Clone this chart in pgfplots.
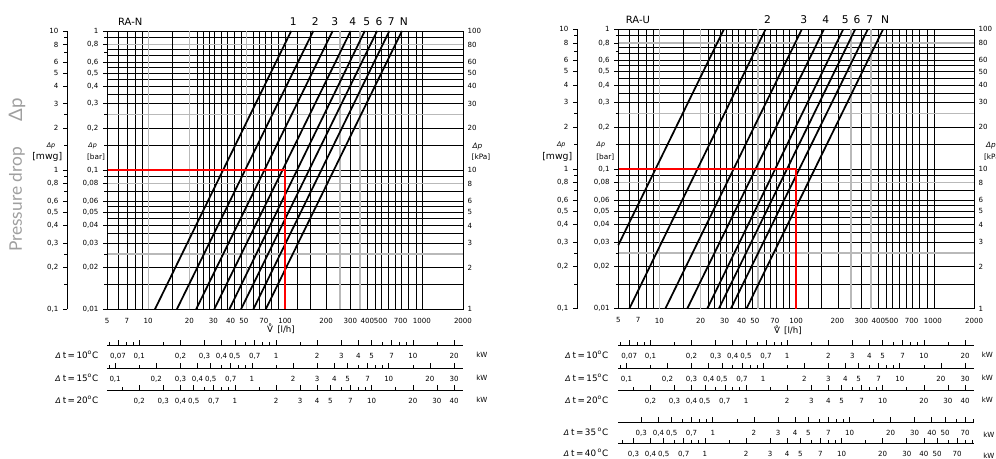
\documentclass[border=0pt]{standalone}
\usepackage{fontspec}
\setmainfont{DejaVu Sans}
\newfontfamily\bigfont{Lato}
\usepackage{pgfplots}
\pgfplotsset{compat=1.18}
\newcommand\tk{\fontsize{5.3}{6}\selectfont}
\newcommand\dt[1]{{\fontsize{5.8}{6}\selectfont\itshape Δ}\;{\fontsize{6.6}{7}\selectfont t\,=\,#1\textsuperscript{o}C}}

\begin{document}
\begin{tikzpicture}
\useasboundingbox (0,0) rectangle (747pt,344.25pt);

\node[rotate=90, text=gray!75, font=\bigfont\fontsize{13}{14}\selectfont] at (12.75pt,194.6pt) {Pressure drop};
\node[rotate=90, text=gray!75, font=\bigfont\fontsize{14}{15}\selectfont] at (12.75pt,261.75pt) {Δp};

% ================= LEFT : RA-N =================
\begin{axis}[at={(80.25pt,112.3pt)}, width=267pt, height=208.7pt,
    scale only axis, anchor=south west, xmode=log, ymode=log,
    xmin=5, xmax=2000, ymin=0.01, ymax=1, clip=false, font=\tk,
    axis line style={black, line width=0.6pt},
    major tick length=0pt, minor tick length=0pt,
    xtick={5,7,10,20,30,40,50,70,100,200,300,400,500,700,1000,2000},
    xticklabels={5,7,10,20,30,40,50,70,100,200,300,400,500,700,1000,2000},
    xticklabel style={yshift=-3.3pt},
    ytick={0.015,0.02,0.03,0.035,0.04,0.045,0.05,0.055,0.06,0.07,0.09,0.1,0.15,0.2,0.3,0.35,0.4,0.45,0.5,0.55,0.6,0.67,0.74,0.9},
    yticklabels={}, ymajorgrids=true, major grid style={black, line width=0.45pt},
    minor xtick={6,7,8,9,22.7,25.3,27.9,30.6,34.4,38,42.7,47.7,58.8,64.4,72,80,89,100,123,154,202,299,400,455,509,570,637,713,793,908,1016},
    xminorgrids=true,
    minor grid style={black, line width=0.45pt},
    extra x ticks={10,20,52.5,252,353}, extra x tick labels={},
    extra x tick style={grid=major, major grid style={gray!55, line width=1pt}},
    extra y ticks={0.025,0.08,0.25,0.8}, extra y tick labels={},
    extra y tick style={grid=major, major grid style={gray!55, line width=1pt}}]
  \addplot[black, line width=0.9pt] coordinates {(15,0.01) (15,1)};
  \addplot[black, line width=1.3pt] coordinates {(11.2,0.01) (111,1)};
  \addplot[black, line width=1.3pt] coordinates {(16.2,0.01) (161,1)};
  \addplot[black, line width=1.3pt] coordinates {(22.4,0.01) (223,1)};
  \addplot[black, line width=1.3pt] coordinates {(30.4,0.01) (302,1)};
  \addplot[black, line width=1.3pt] coordinates {(39.2,0.01) (383,1)};
  \addplot[black, line width=1.3pt] coordinates {(47.7,0.01) (471,1)};
  \addplot[black, line width=1.3pt] coordinates {(58.7,0.01) (579,1)};
  \addplot[black, line width=1.3pt] coordinates {(72.3,0.01) (716,1)};
  \addplot[red, line width=1.7pt] coordinates {(5,0.1) (100,0.1) (100,0.01)};
  \node[anchor=south, font=\fontsize{8}{9}\selectfont, yshift=0.3pt, xshift=1.5pt] at (axis cs:111,1) {1};
  \node[anchor=south, font=\fontsize{8}{9}\selectfont, yshift=0.3pt, xshift=1.5pt] at (axis cs:161,1) {2};
  \node[anchor=south, font=\fontsize{8}{9}\selectfont, yshift=0.3pt, xshift=1.5pt] at (axis cs:223,1) {3};
  \node[anchor=south, font=\fontsize{8}{9}\selectfont, yshift=0.3pt, xshift=1.5pt] at (axis cs:302,1) {4};
  \node[anchor=south, font=\fontsize{8}{9}\selectfont, yshift=0.3pt, xshift=1.5pt] at (axis cs:383,1) {5};
  \node[anchor=south, font=\fontsize{8}{9}\selectfont, yshift=0.3pt, xshift=1.5pt] at (axis cs:471,1) {6};
  \node[anchor=south, font=\fontsize{8}{9}\selectfont, yshift=0.3pt, xshift=1.5pt] at (axis cs:579,1) {7};
  \node[anchor=south, font=\fontsize{8}{9}\selectfont, yshift=0.3pt, xshift=1.5pt] at (axis cs:716,1) {N};
  \node[anchor=south, font=\fontsize{7.5}{8}\selectfont, yshift=0.3pt] at (axis cs:7.4,1) {RA-N};
  \node[anchor=west, xshift=-17.5pt, font=\fontsize{4.8}{5}\selectfont\itshape] at (axis cs:5,0.1486) {Δp};
  \node[anchor=west, xshift=-18.5pt, font=\fontsize{5.5}{6}\selectfont] at (axis cs:5,0.124) {[bar]};
  \node[anchor=east, xshift=-35.25pt, font=\fontsize{4.8}{5}\selectfont\itshape] at (axis cs:5,0.1486) {Δp};
  \node[anchor=east, xshift=-30pt, font=\fontsize{7}{8}\selectfont] at (axis cs:5,0.124) {[mwg]};
  \node[anchor=west, xshift=3.75pt, font=\fontsize{5.5}{6}\selectfont\itshape] at (axis cs:2000,0.1486) {Δp};
  \node[anchor=west, xshift=3pt, font=\fontsize{5.5}{6}\selectfont] at (axis cs:2000,0.124) {[kPa]};
  \node[font=\fontsize{6.5}{7}\selectfont, yshift=-14.8pt] at (axis cs:93.5,0.01) {V̊ \,[l/h]};
\end{axis}
% bar scale
\begin{axis}[at={(80.25pt,112.3pt)}, width=267pt, height=208.7pt,
  scale only axis, anchor=south west, ymode=log, font=\tk,
  xmin=0, xmax=1, hide x axis, axis y line*=left, axis line style={-, black, line width=0.5pt},
  tick align=outside, major tick length=3pt, minor tick length=2pt, tick style={black, line width=0.5pt},
  ymin=0.01, ymax=1,
  ytick={0.01,0.02,0.03,0.04,0.05,0.06,0.08,0.1,0.2,0.3,0.4,0.5,0.6,0.8,1},
  yticklabels={{0,01},{0,02},{0,03},{0,04},{0,05},{0,06},{0,08},{0,1},{0,2},{0,3},{0,4},{0,5},{0,6},{0,8},1},
  minor ytick={0.015,0.025,0.07,0.09,0.15,0.25,0.7,0.9}]
\end{axis}
% mwg scale
\begin{axis}[at={(50.25pt,112.3pt)}, width=1pt, height=208.7pt,
  scale only axis, anchor=south west, ymode=log, font=\tk,
  xmin=0, xmax=1, hide x axis, axis y line*=left, axis line style={-, black, line width=0.5pt},
  tick align=outside, major tick length=3pt, minor tick length=2pt, tick style={black, line width=0.5pt},
  ymin=0.1, ymax=10,
  ytick={0.1,0.2,0.3,0.4,0.5,0.6,0.8,1,2,3,4,5,6,8,10},
  yticklabels={{0,1},{0,2},{0,3},{0,4},{0,5},{0,6},{0,8},1,2,3,4,5,6,8,10},
  minor ytick={0.15,0.25,0.7,0.9,1.5,2.5,7,9}]
\end{axis}
% kPa scale
\begin{axis}[at={(80.25pt,112.3pt)}, width=267pt, height=208.7pt,
  scale only axis, anchor=south west, ymode=log, font=\tk,
  xmin=0, xmax=1, hide x axis, axis y line*=right, axis line style={-, black, line width=0.5pt},
  major tick length=0pt, minor tick length=0pt,
  ymin=1, ymax=100,
  ytick={1,2,3,4,5,6,8,10,20,30,40,50,60,80,100},
  yticklabels={1,2,3,4,5,6,8,10,20,30,40,50,60,80,100}]
\end{axis}
% kW scales left
\begin{axis}[at={(80.25pt,85.5pt)}, width=267pt, height=4pt,
  scale only axis, anchor=south west, xmode=log, font=\tk, clip=false,
  hide y axis, ymin=0, ymax=1, axis x line*=bottom, axis line style={-, black, line width=0.5pt},
  tick align=inside, major tick length=3.5pt, minor tick length=2.5pt,
  tick style={black, line width=0.5pt}, xticklabel style={yshift=-2.8pt},
  xmin=0.05815, xmax=23.26,
  xtick={0.07,0.1,0.2,0.3,0.4,0.5,0.7,1,2,3,4,5,7,10,20},
  xticklabels={{0,07},{0,1},{0,2},{0,3},{0,4},{0,5},{0,7},1,2,3,4,5,7,10,20},
  minor xtick={0.06,0.08,0.09,0.15,0.6,0.8,0.9,1.5,6,8,9,15}]
  \node[anchor=east, xshift=-3pt, yshift=-7.5pt] at (rel axis cs:0,0) {\dt{10}};
  \node[anchor=west, xshift=6.5pt, yshift=-7.5pt] at (rel axis cs:1,0) {kW};
\end{axis}
\begin{axis}[at={(80.25pt,68.25pt)}, width=267pt, height=4pt,
  scale only axis, anchor=south west, xmode=log, font=\tk, clip=false,
  hide y axis, ymin=0, ymax=1, axis x line*=bottom, axis line style={-, black, line width=0.5pt},
  tick align=inside, major tick length=3.5pt, minor tick length=2.5pt,
  tick style={black, line width=0.5pt}, xticklabel style={yshift=-2.8pt},
  xmin=0.087225, xmax=34.89,
  xtick={0.1,0.2,0.3,0.4,0.5,0.7,1,2,3,4,5,7,10,20,30},
  xticklabels={{0,1},{0,2},{0,3},{0,4},{0,5},{0,7},1,2,3,4,5,7,10,20,30},
  minor xtick={0.09,0.15,0.6,0.8,0.9,1.5,6,8,9,15}]
  \node[anchor=east, xshift=-3pt, yshift=-7.5pt] at (rel axis cs:0,0) {\dt{15}};
  \node[anchor=west, xshift=6.5pt, yshift=-7.5pt] at (rel axis cs:1,0) {kW};
\end{axis}
\begin{axis}[at={(80.25pt,51.75pt)}, width=267pt, height=4pt,
  scale only axis, anchor=south west, xmode=log, font=\tk, clip=false,
  hide y axis, ymin=0, ymax=1, axis x line*=bottom, axis line style={-, black, line width=0.5pt},
  tick align=inside, major tick length=3.5pt, minor tick length=2.5pt,
  tick style={black, line width=0.5pt}, xticklabel style={yshift=-2.8pt},
  xmin=0.1163, xmax=46.52,
  xtick={0.2,0.3,0.4,0.5,0.7,1,2,3,4,5,7,10,20,30,40},
  xticklabels={{0,2},{0,3},{0,4},{0,5},{0,7},1,2,3,4,5,7,10,20,30,40},
  minor xtick={0.15,0.6,0.8,0.9,1.5,6,8,9,15}]
  \node[anchor=east, xshift=-3pt, yshift=-7.5pt] at (rel axis cs:0,0) {\dt{20}};
  \node[anchor=west, xshift=6.5pt, yshift=-7.5pt] at (rel axis cs:1,0) {kW};
\end{axis}

% ================= RIGHT : RA-U =================
\begin{axis}[at={(463.7pt,112.7pt)}, width=266.8pt, height=209.5pt,
    scale only axis, anchor=south west, xmode=log, ymode=log,
    xmin=5, xmax=2000, ymin=0.01, ymax=1, clip=false, font=\tk,
    axis line style={black, line width=0.6pt},
    major tick length=0pt, minor tick length=0pt,
    xtick={5,7,10,20,30,40,50,70,100,200,300,400,500,700,1000,2000},
    xticklabels={5,7,10,20,30,40,50,70,100,200,300,400,500,700,1000,2000},
    xticklabel style={yshift=-3.3pt},
    ytick={0.015,0.02,0.03,0.035,0.04,0.045,0.05,0.055,0.06,0.07,0.09,0.1,0.15,0.2,0.3,0.35,0.4,0.45,0.5,0.55,0.6,0.67,0.74,0.9},
    yticklabels={}, ymajorgrids=true, major grid style={black, line width=0.45pt},
    minor xtick={6,7,8,9,22.7,25.3,27.9,30.6,34.4,38,42.7,47.7,58.8,64.4,72,80,89,100,123,154,202,299,400,455,509,570,637,713,793,908,1016},
    xminorgrids=true,
    minor grid style={black, line width=0.45pt},
    extra x ticks={10,20,52.5,252,353}, extra x tick labels={},
    extra x tick style={grid=major, major grid style={gray!55, line width=1pt}},
    extra y ticks={0.025,0.08,0.25,0.8}, extra y tick labels={},
    extra y tick style={grid=major, major grid style={gray!55, line width=1pt}}]
  \addplot[black, line width=0.9pt] coordinates {(15,0.01) (15,1)};
  \addplot[black, line width=1.3pt] coordinates {(5,0.0285) (29.6,1)};
  \addplot[black, line width=1.3pt] coordinates {(6.02,0.01) (59.7,1)};
  \addplot[black, line width=1.3pt] coordinates {(11.04,0.01) (110,1)};
  \addplot[black, line width=1.3pt] coordinates {(15.97,0.01) (159.5,1)};
  \addplot[black, line width=1.3pt] coordinates {(22.37,0.01) (220.7,1)};
  \addplot[black, line width=1.3pt] coordinates {(27.2,0.01) (270,1)};
  \addplot[black, line width=1.3pt] coordinates {(33.3,0.01) (334,1)};
  \addplot[black, line width=1.3pt] coordinates {(43.3,0.01) (432,1)};
  \addplot[red, line width=1.7pt] coordinates {(5,0.1) (100,0.1) (100,0.01)};
  \node[anchor=south, font=\fontsize{8}{9}\selectfont, yshift=0.8pt, xshift=1.5pt] at (axis cs:59.7,1) {2};
  \node[anchor=south, font=\fontsize{8}{9}\selectfont, yshift=0.8pt, xshift=1.5pt] at (axis cs:110,1) {3};
  \node[anchor=south, font=\fontsize{8}{9}\selectfont, yshift=0.8pt, xshift=1.5pt] at (axis cs:159.5,1) {4};
  \node[anchor=south, font=\fontsize{8}{9}\selectfont, yshift=0.8pt, xshift=1.5pt] at (axis cs:220.7,1) {5};
  \node[anchor=south, font=\fontsize{8}{9}\selectfont, yshift=0.8pt, xshift=1.5pt] at (axis cs:270,1) {6};
  \node[anchor=south, font=\fontsize{8}{9}\selectfont, yshift=0.8pt, xshift=1.5pt] at (axis cs:334,1) {7};
  \node[anchor=south, font=\fontsize{8}{9}\selectfont, yshift=0.8pt, xshift=1.5pt] at (axis cs:432,1) {N};
  \node[anchor=south, font=\fontsize{7.5}{8}\selectfont, yshift=0.8pt] at (axis cs:6.97,1) {RA-U};
  \node[anchor=west, xshift=-19.7pt, font=\fontsize{4.8}{5}\selectfont\itshape] at (axis cs:5,0.1483) {Δp};
  \node[anchor=west, xshift=-20pt, font=\fontsize{5.5}{6}\selectfont] at (axis cs:5,0.1219) {[bar]};
  \node[anchor=east, xshift=-36pt, font=\fontsize{4.8}{5}\selectfont\itshape] at (axis cs:5,0.1483) {Δp};
  \node[anchor=east, xshift=-31pt, font=\fontsize{7}{8}\selectfont] at (axis cs:5,0.1219) {[mwg]};
  \node[anchor=west, xshift=5.5pt, font=\fontsize{5.5}{6}\selectfont\itshape] at (axis cs:2000,0.1483) {Δp};
  \node[anchor=west, xshift=4pt, font=\fontsize{5.5}{6}\selectfont] at (axis cs:2000,0.1219) {[kPa]};
  \node[font=\fontsize{6.5}{7}\selectfont, yshift=-16pt] at (axis cs:87,0.01) {V̊ \,[l/h]};
\end{axis}
\begin{axis}[at={(463.7pt,112.7pt)}, width=266.8pt, height=209.5pt,
  scale only axis, anchor=south west, ymode=log, font=\tk,
  xmin=0, xmax=1, hide x axis, axis y line*=left, axis line style={-, black, line width=0.5pt},
  tick align=outside, major tick length=3pt, minor tick length=2pt, tick style={black, line width=0.5pt},
  ymin=0.01, ymax=1,
  ytick={0.01,0.02,0.03,0.04,0.05,0.06,0.08,0.1,0.2,0.3,0.4,0.5,0.6,0.8,1},
  yticklabels={{0,01},{0,02},{0,03},{0,04},{0,05},{0,06},{0,08},{0,1},{0,2},{0,3},{0,4},{0,5},{0,6},{0,8},1},
  minor ytick={0.015,0.025,0.07,0.09,0.15,0.25,0.7,0.9}]
\end{axis}
\begin{axis}[at={(432.75pt,112.7pt)}, width=1pt, height=209.5pt,
  scale only axis, anchor=south west, ymode=log, font=\tk,
  xmin=0, xmax=1, hide x axis, axis y line*=left, axis line style={-, black, line width=0.5pt},
  tick align=outside, major tick length=3pt, minor tick length=2pt, tick style={black, line width=0.5pt},
  ymin=0.1, ymax=10,
  ytick={0.1,0.2,0.3,0.4,0.5,0.6,0.8,1,2,3,4,5,6,8,10},
  yticklabels={{0,1},{0,2},{0,3},{0,4},{0,5},{0,6},{0,8},1,2,3,4,5,6,8,10},
  minor ytick={0.15,0.25,0.7,0.9,1.5,2.5,7,9}]
\end{axis}
\begin{axis}[at={(463.7pt,112.7pt)}, width=266.8pt, height=209.5pt,
  scale only axis, anchor=south west, ymode=log, font=\tk,
  xmin=0, xmax=1, hide x axis, axis y line*=right, axis line style={-, black, line width=0.5pt},
  major tick length=0pt, minor tick length=0pt,
  ymin=1, ymax=100,
  ytick={1,2,3,4,5,6,8,10,20,30,40,50,60,80,100},
  yticklabels={1,2,3,4,5,6,8,10,20,30,40,50,60,80,100}]
\end{axis}
\begin{axis}[at={(463.7pt,85.5pt)}, width=266.8pt, height=4pt,
  scale only axis, anchor=south west, xmode=log, font=\tk, clip=false,
  hide y axis, ymin=0, ymax=1, axis x line*=bottom, axis line style={-, black, line width=0.5pt},
  tick align=inside, major tick length=3.5pt, minor tick length=2.5pt,
  tick style={black, line width=0.5pt}, xticklabel style={yshift=-2.8pt},
  xmin=0.05815, xmax=23.26,
  xtick={0.07,0.1,0.2,0.3,0.4,0.5,0.7,1,2,3,4,5,7,10,20},
  xticklabels={{0,07},{0,1},{0,2},{0,3},{0,4},{0,5},{0,7},1,2,3,4,5,7,10,20},
  minor xtick={0.06,0.08,0.09,0.15,0.6,0.8,0.9,1.5,6,8,9,15}]
  \node[anchor=east, xshift=-4pt, yshift=-7.5pt] at (rel axis cs:0,0) {\dt{10}};
  \node[anchor=west, xshift=2.3pt, yshift=-7.5pt] at (rel axis cs:1,0) {kW};
\end{axis}
\begin{axis}[at={(463.7pt,68.25pt)}, width=266.8pt, height=4pt,
  scale only axis, anchor=south west, xmode=log, font=\tk, clip=false,
  hide y axis, ymin=0, ymax=1, axis x line*=bottom, axis line style={-, black, line width=0.5pt},
  tick align=inside, major tick length=3.5pt, minor tick length=2.5pt,
  tick style={black, line width=0.5pt}, xticklabel style={yshift=-2.8pt},
  xmin=0.087225, xmax=34.89,
  xtick={0.1,0.2,0.3,0.4,0.5,0.7,1,2,3,4,5,7,10,20,30},
  xticklabels={{0,1},{0,2},{0,3},{0,4},{0,5},{0,7},1,2,3,4,5,7,10,20,30},
  minor xtick={0.09,0.15,0.6,0.8,0.9,1.5,6,8,9,15}]
  \node[anchor=east, xshift=-4pt, yshift=-7.5pt] at (rel axis cs:0,0) {\dt{15}};
  \node[anchor=west, xshift=2.3pt, yshift=-7.5pt] at (rel axis cs:1,0) {kW};
\end{axis}
\begin{axis}[at={(463.7pt,51.75pt)}, width=266.8pt, height=4pt,
  scale only axis, anchor=south west, xmode=log, font=\tk, clip=false,
  hide y axis, ymin=0, ymax=1, axis x line*=bottom, axis line style={-, black, line width=0.5pt},
  tick align=inside, major tick length=3.5pt, minor tick length=2.5pt,
  tick style={black, line width=0.5pt}, xticklabel style={yshift=-2.8pt},
  xmin=0.1163, xmax=46.52,
  xtick={0.2,0.3,0.4,0.5,0.7,1,2,3,4,5,7,10,20,30,40},
  xticklabels={{0,2},{0,3},{0,4},{0,5},{0,7},1,2,3,4,5,7,10,20,30,40},
  minor xtick={0.15,0.6,0.8,0.9,1.5,6,8,9,15}]
  \node[anchor=east, xshift=-4pt, yshift=-7.5pt] at (rel axis cs:0,0) {\dt{20}};
  \node[anchor=west, xshift=2.3pt, yshift=-7.5pt] at (rel axis cs:1,0) {kW};
\end{axis}
\begin{axis}[at={(463.7pt,27.75pt)}, width=266.8pt, height=4pt,
  scale only axis, anchor=south west, xmode=log, font=\tk, clip=false,
  hide y axis, ymin=0, ymax=1, axis x line*=bottom, axis line style={-, black, line width=0.5pt},
  tick align=inside, major tick length=3.5pt, minor tick length=2.5pt,
  tick style={black, line width=0.5pt}, xticklabel style={yshift=-2.8pt},
  xmin=0.20353, xmax=81.41,
  xtick={0.3,0.4,0.5,0.7,1,2,3,4,5,7,10,20,30,40,50,70},
  xticklabels={{0,3},{0,4},{0,5},{0,7},1,2,3,4,5,7,10,20,30,40,50,70},
  minor xtick={0.6,0.8,0.9,1.5,6,8,9,15,60,80}]
  \node[anchor=east, xshift=-4pt, yshift=-7.5pt] at (rel axis cs:0,0) {{\fontsize{5.8}{6}\selectfont\itshape Δ}\;{\fontsize{6.6}{7}\selectfont t\,=\,35\,\textsuperscript{o}C}};
  \node[anchor=west, xshift=3.5pt, yshift=-9.5pt] at (rel axis cs:1,0) {kW};
\end{axis}
\begin{axis}[at={(463.7pt,12pt)}, width=266.8pt, height=4pt,
  scale only axis, anchor=south west, xmode=log, font=\tk, clip=false,
  hide y axis, ymin=0, ymax=1, axis x line*=bottom, axis line style={-, black, line width=0.5pt},
  tick align=inside, major tick length=3.5pt, minor tick length=2.5pt,
  tick style={black, line width=0.5pt}, xticklabel style={yshift=-2.8pt},
  xmin=0.2326, xmax=93.04,
  xtick={0.3,0.4,0.5,0.7,1,2,3,4,5,7,10,20,30,40,50,70},
  xticklabels={{0,3},{0,4},{0,5},{0,7},1,2,3,4,5,7,10,20,30,40,50,70},
  minor xtick={0.25,0.6,0.8,0.9,1.5,6,8,9,15,60,80,90}]
  \node[anchor=east, xshift=-4pt, yshift=-7.5pt] at (rel axis cs:0,0) {{\fontsize{5.8}{6}\selectfont\itshape Δ}\;{\fontsize{6.6}{7}\selectfont t\,=\,40\,\textsuperscript{o}C}};
  \node[anchor=west, xshift=3.5pt, yshift=-9.5pt] at (rel axis cs:1,0) {kW};
\end{axis}
\end{tikzpicture}
\end{document}
